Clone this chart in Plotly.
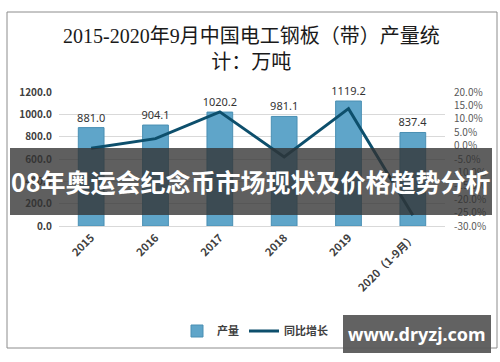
import plotly.graph_objects as go

years = ["2015", "2016", "2017", "2018", "2019", "2020（1-9月）"]
output = [881.0, 904.1, 1020.2, 981.1, 1119.2, 837.4]
growth = [-1.0, 2.6, 12.6, -4.2, 13.8, -26.0]
left_ticks = [0, 200, 400, 600, 800, 1000, 1200]
right_ticks = [-30, -25, -20, -15, -10, -5, 0, 5, 10, 15, 20]

W, H = 500, 362
L, R, T, B = 59, 55, 92, 136
PW, PH = W - L - R, H - T - B

def px(x):
    return (x - L) / PW

def py(y):
    return (H - B - y) / PH

fig = go.Figure()
fig.add_trace(go.Bar(
    x=years, y=output, name="产量",
    marker=dict(color="#5fa5c9", line=dict(color="#4a8fb3", width=1)),
    text=[f"{v:.1f}" for v in output], textposition="outside",
    textfont=dict(size=11, color="#333333", family="Noto Sans, DejaVu Sans"),
    cliponaxis=False, constraintext="none",
))
fig.add_trace(go.Scatter(
    x=years, y=growth, name="同比增长", yaxis="y2", mode="lines",
    line=dict(color="#0d4f6c", width=3),
))

fig.update_layout(
    width=W, height=H, autosize=False,
    margin=dict(l=L, r=R, t=T, b=B, autoexpand=False),
    paper_bgcolor="white", plot_bgcolor="white",
    bargap=0.6,
    font=dict(family="Noto Sans CJK SC, Noto Sans", color="#404040"),
    xaxis=dict(tickangle=-45, tickfont=dict(size=11, color="#404040", family="Noto Sans CJK SC", weight="bold"),
               showgrid=False, linecolor="#d9d9d9", ticks="", automargin=False),
    yaxis=dict(range=[0, 1200], tickvals=left_ticks, ticktext=[f"{v:.1f}" for v in left_ticks],
               gridcolor="#d9d9d9", zeroline=False, automargin=False, ticklabelstandoff=6,
               tickfont=dict(size=10, color="#404040", weight="bold")),
    yaxis2=dict(range=[-30, 20], tickvals=right_ticks, ticktext=[f"{v:.1f}%" for v in right_ticks],
                overlaying="y", side="right", showgrid=False, zeroline=False, automargin=False,
                ticklabelstandoff=8, tickfont=dict(size=10, color="#595959")),
    legend=dict(orientation="h", x=px(255), y=py(331), xanchor="center", yanchor="middle",
                font=dict(size=11, color="#404040", weight="bold"), itemwidth=30),
    showlegend=True,
)

shapes = [
    dict(type="rect", xref="paper", yref="paper", x0=px(7), x1=px(497), y0=py(12), y1=py(348),
         line=dict(color="#8c8c8c", width=1), fillcolor="rgba(0,0,0,0)", layer="below"),
    dict(type="rect", xref="paper", yref="paper", x0=px(10), x1=px(492), y0=py(148), y1=py(215),
         line=dict(width=0), fillcolor="rgba(50,50,50,0.78)", layer="above"),
    dict(type="rect", xref="paper", yref="paper", x0=px(343), x1=px(491), y0=py(315), y1=py(353),
         line=dict(width=0), fillcolor="rgba(90,90,90,0.95)", layer="above"),
]
fig.update_layout(shapes=shapes)

annotations = [
    dict(text="2015-2020年9月中国电工钢板（带）产量统<br>计：万吨", xref="paper", yref="paper",
         x=px(251), y=py(49), xanchor="center", yanchor="middle", showarrow=False,
         font=dict(size=20, color="#1a1a1a", family="Liberation Serif, Noto Sans CJK SC"), align="center"),
    dict(text="<b>08年奥运会纪念币市场现状及价格趋势分析</b>", xref="paper", yref="paper",
         x=px(251), y=py(181), xanchor="center", yanchor="middle", showarrow=False,
         font=dict(size=25, color="white", family="Noto Sans CJK SC")),
    dict(text="<b>www.dryzj.com</b>", xref="paper", yref="paper",
         x=px(417), y=py(334), xanchor="center", yanchor="middle", showarrow=False,
         font=dict(size=18, color="white", family="Noto Sans, DejaVu Sans")),
]
fig.update_layout(annotations=annotations)

fig.write_html("out.html", config={"displayModeBar": False},
               post_script="document.body.style.margin='0';document.body.style.overflow='hidden';")
